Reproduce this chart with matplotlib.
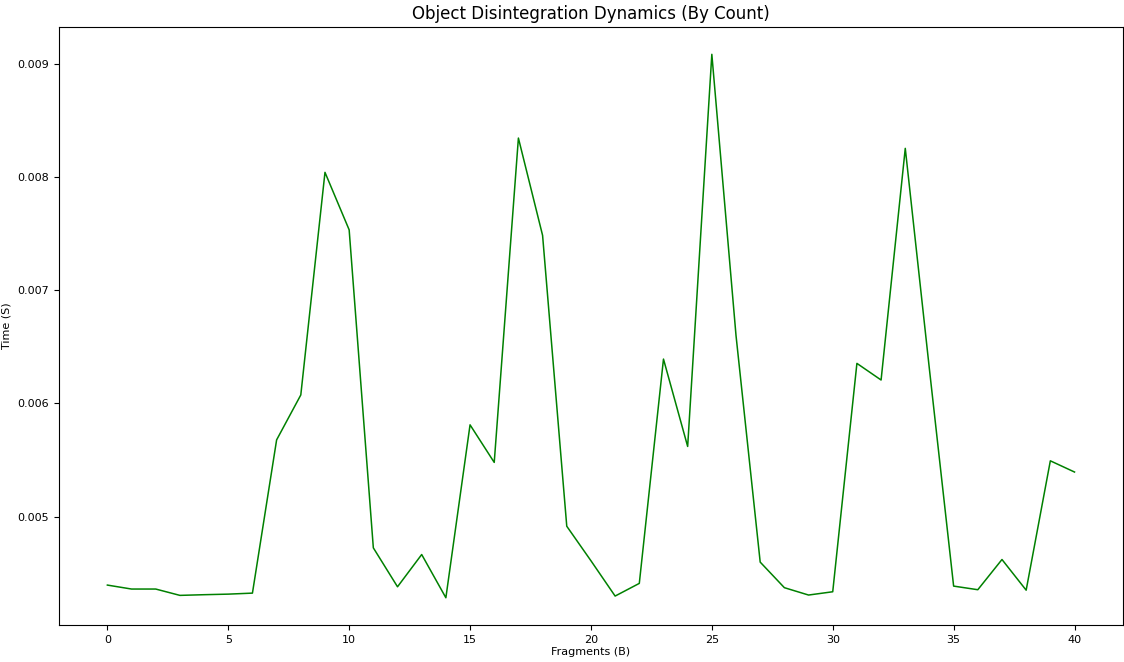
import matplotlib
matplotlib.use("Agg")
import matplotlib.pyplot as plt

# fragments counted vs time taken
fragments = list(range(0, 41))
times = [
    0.004395, 0.00436, 0.00436, 0.004304, 0.00431, 0.004315, 0.004324, 0.005678,
    0.006075, 0.008042, 0.007534, 0.004724, 0.00438, 0.004665, 0.004283, 0.005811,
    0.005479, 0.008345, 0.007485, 0.004915, 0.00461, 0.004298, 0.00441, 0.006392,
    0.00562, 0.009085, 0.0066, 0.004598, 0.004372, 0.004307, 0.004336, 0.006354,
    0.006207, 0.008254, 0.0063, 0.004386, 0.004354, 0.004621, 0.00435, 0.005493,
    0.005394,
]

fig = plt.figure(figsize=(11.24, 6.62), dpi=100)
ax = fig.add_axes([0.0525, 0.056, 0.9465, 0.903])

ax.plot(fragments, times, color="green", linewidth=1.1)

ax.set_title("Object Disintegration Dynamics (By Count)", fontsize=12)
ax.set_xlabel("Fragments (B)", fontsize=8, labelpad=2)
ax.set_ylabel("Time (S)", fontsize=8)
ax.tick_params(labelsize=8)
ax.set_xticks(range(0, 41, 5))
ax.set_yticks([0.005, 0.006, 0.007, 0.008, 0.009])

fig.savefig("out.png", dpi=100)
